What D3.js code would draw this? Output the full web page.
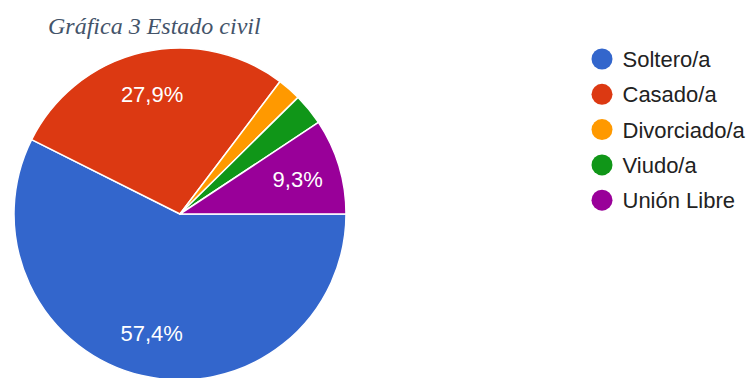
<!DOCTYPE html>
<html>
<head>
<meta charset="utf-8">
<script src="https://cdn.jsdelivr.net/npm/d3@7"></script>
<style>
  html, body { margin: 0; padding: 0; background: #fff; }
  svg { display: block; }
</style>
</head>
<body>
<svg id="chart" width="747" height="378"></svg>
<script>
// Estado civil: categories, shares (%) and slice colours
const categories = ["Soltero/a", "Casado/a", "Divorciado/a", "Viudo/a", "Unión Libre"];
const shares = [57.4, 27.9, 2.3, 3.1, 9.3];
const colors = ["#3366cc", "#dc3912", "#ff9900", "#109618", "#990099"];
const titleText = "Gráfica 3 Estado civil";

const svg = d3.select("#chart");
const cx = 180, cy = 214, radius = 166;

const color = d3.scaleOrdinal().domain(categories).range(colors);

const data = categories.map((c, i) => ({ name: c, value: shares[i] }));

// Slices start at 3 o'clock and run clockwise
const pie = d3.pie()
  .value(d => d.value)
  .sort(null)
  .startAngle(Math.PI / 2)
  .endAngle(Math.PI / 2 + 2 * Math.PI);

const arcs = pie(data);
const arc = d3.arc().innerRadius(0).outerRadius(radius);
const labelArc = d3.arc().innerRadius(radius * 0.74).outerRadius(radius * 0.74);

const g = svg.append("g").attr("transform", `translate(${cx},${cy})`);

g.selectAll("path")
  .data(arcs)
  .join("path")
  .attr("d", arc)
  .attr("fill", d => color(d.data.name))
  .attr("stroke", "#ffffff")
  .attr("stroke-width", 1.5)
  .attr("stroke-linejoin", "round");

// Percentage labels on the slices large enough to hold them
g.selectAll("text.pct")
  .data(arcs.filter(d => d.data.value >= 5))
  .join("text")
  .attr("class", "pct")
  .attr("transform", d => `translate(${labelArc.centroid(d)})`)
  .attr("text-anchor", "middle")
  .attr("dy", "0.36em")
  .attr("fill", "#ffffff")
  .style("font-family", "'Liberation Sans', Arial, sans-serif")
  .style("font-size", "22px")
  .text(d => d.data.value.toFixed(1).replace(".", ",") + "%");

// Title
svg.append("text")
  .attr("x", 48)
  .attr("y", 34)
  .attr("fill", "#44546a")
  .style("font-family", "'Liberation Serif', 'Times New Roman', serif")
  .style("font-style", "italic")
  .style("font-size", "24px")
  .text(titleText);

// Legend
const legend = svg.append("g").attr("transform", "translate(602,59)");
const item = legend.selectAll("g")
  .data(categories)
  .join("g")
  .attr("transform", (d, i) => `translate(0,${i * 35.3})`);

item.append("circle")
  .attr("r", 10.5)
  .attr("fill", d => color(d));

item.append("text")
  .attr("x", 20.5)
  .attr("dy", "0.36em")
  .attr("fill", "#222222")
  .style("font-family", "'Liberation Sans', Arial, sans-serif")
  .style("font-size", "22px")
  .text(d => d);
</script>
</body>
</html>
